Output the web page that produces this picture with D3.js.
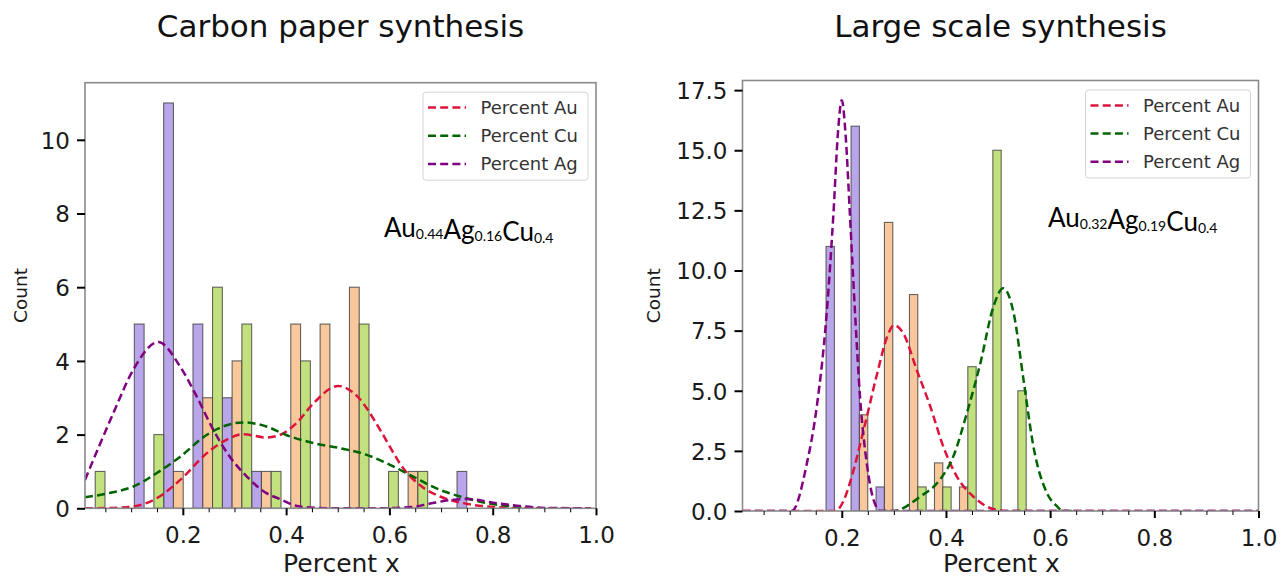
<!DOCTYPE html>
<html><head><meta charset="utf-8">
<script src="https://cdn.jsdelivr.net/npm/d3@7"></script>
<style>body{margin:0;background:#fff} svg{display:block}</style>
</head><body>
<svg id="chart" width="1281" height="579"></svg>
<script>
// ---------- DATA ----------
const seriesNames = ["Percent Au", "Percent Cu", "Percent Ag"];
const xTickValues = [0.2, 0.4, 0.6, 0.8, 1.0];
const xMinorValues = [0.05, 0.1, 0.15, 0.25, 0.3, 0.35, 0.45, 0.5, 0.55, 0.65, 0.7, 0.75, 0.85, 0.9, 0.95];

// Left panel: Carbon paper synthesis
const leftTitle = "Carbon paper synthesis";
const leftBinStart = -0.0075, leftBinWidth = 0.0568;
const leftCountsAg = [0, 0, 5, 11, 5, 3, 1, 0, 0, 0, 0, 0, 0, 1];
const leftCountsAu = [0, 0, 0, 1, 3, 4, 1, 5, 5, 6, 0, 1, 0, 0];
const leftCountsCu = [1, 0, 2, 0, 6, 5, 1, 4, 0, 5, 1, 1, 0, 0];
const leftYTicks = [0, 2, 4, 6, 8, 10];
const leftKdeAu = [[0.0106,0],[0.06,0.01],[0.104,0.05],[0.149,0.27],[0.195,0.77],[0.246,1.49],[0.278,1.81],[0.317,2.01],[0.362,1.92],[0.388,1.99],[0.420,2.31],[0.453,2.85],[0.501,3.32],[0.537,3.05],[0.582,2.13],[0.608,1.5],[0.620,1.22],[0.659,0.63],[0.698,0.32],[0.743,0.14],[0.808,0.03],[0.87,0.0],[0.99,0]];
const leftKdeCu = [[0.0106,0.30],[0.06,0.42],[0.104,0.59],[0.149,0.95],[0.195,1.40],[0.246,1.99],[0.278,2.22],[0.317,2.33],[0.362,2.22],[0.40,1.99],[0.453,1.77],[0.505,1.63],[0.556,1.45],[0.601,1.18],[0.646,0.86],[0.691,0.54],[0.737,0.32],[0.788,0.14],[0.839,0.05],[0.88,0.0]];
const leftKdeAg = [[0.0106,0.77],[0.0654,2.58],[0.104,3.76],[0.1526,4.51],[0.1946,3.85],[0.227,3.03],[0.259,2.13],[0.291,1.40],[0.324,0.86],[0.362,0.41],[0.388,0.25],[0.414,0.09],[0.446,0.02],[0.504,0.0],[0.582,0.0],[0.646,0.04],[0.679,0.13],[0.730,0.24],[0.750,0.25],[0.808,0.14],[0.853,0.06],[0.905,0.01],[0.99,0]];
const leftFormula = [["Au","0.44"],["Ag","0.16"],["Cu","0.4"]];

// Right panel: Large scale synthesis
const rightTitle = "Large scale synthesis";
const rightBinStart = 0.1698, rightBinWidth = 0.04803;
const rightCountsAg = [11, 16, 1, 0, 0, 0, 0, 0];
const rightCountsAu = [0, 4, 12, 9, 2, 1, 0, 0];
const rightCountsCu = [0, 0, 0, 1, 1, 6, 15, 5];
const rightYTicks = [0, 2.5, 5, 7.5, 10, 12.5, 15, 17.5];
const rightKdeAu = [[0.0094,0],[0.187,0.0],[0.205,0.5],[0.216,1.2],[0.242,3.37],[0.268,5.72],[0.287,7.24],[0.3006,7.73],[0.318,7.39],[0.344,5.86],[0.370,4.34],[0.395,2.67],[0.421,1.43],[0.453,0.59],[0.491,0.08],[0.52,0],[1.0,0]];
const rightKdeCu = [[0.27,0],[0.299,0.0],[0.350,0.59],[0.388,1.29],[0.414,2.26],[0.440,4.06],[0.466,6.14],[0.491,8.49],[0.510,9.26],[0.530,8.22],[0.549,5.44],[0.568,2.67],[0.594,0.74],[0.613,0.2],[0.625,0],[0.65,0]];
const rightKdeAg = [[0.0094,0],[0.104,0.0],[0.133,1.98],[0.152,4.34],[0.171,8.22],[0.184,12.37],[0.193,15.84],[0.200,17.08],[0.208,15.42],[0.2155,12.37],[0.2255,8.22],[0.235,4.75],[0.248,1.98],[0.261,0.46],[0.274,0.0],[1.0,0]];
const rightFormula = [["Au","0.32"],["Ag","0.19"],["Cu","0.4"]];

// ---------- STYLE ----------
const barFill = { Ag: "#b9a5e9", Au: "#f8c79b", Cu: "#c3e07f" };
const lineColor = { Au: "#dc143c", Cu: "#006400", Ag: "#800080" };
const FONT = "'DejaVu Sans', sans-serif";

const svg = d3.select("#chart");

function drawPanel(p, idx) {
  const x = d3.scaleLinear().domain(p.xDomain).range([p.left, p.right]);
  const y = d3.scaleLinear().domain(p.yDomain).range([p.bottom, p.top]);
  const g = svg.append("g");

  const clipId = "clip" + idx;
  svg.append("clipPath").attr("id", clipId).append("rect")
    .attr("x", p.left).attr("y", p.top)
    .attr("width", p.right - p.left).attr("height", p.bottom - p.top);

  const plot = g.append("g").attr("clip-path", `url(#${clipId})`);

  // bars: dodge order Ag, Au, Cu
  const slots = [["Ag", p.countsAg], ["Au", p.countsAu], ["Cu", p.countsCu]];
  const barData = [];
  slots.forEach(([key, counts], s) => {
    counts.forEach((c, i) => {
      if (c > 0) {
        const x0 = p.binStart + i * p.binWidth + s * p.binWidth / 3;
        barData.push({ key, c, x0, x1: x0 + p.binWidth / 3 });
      }
    });
  });
  plot.selectAll("rect.bar").data(barData).enter().append("rect")
    .attr("class", "bar")
    .attr("x", d => x(d.x0)).attr("width", d => x(d.x1) - x(d.x0))
    .attr("y", d => y(d.c)).attr("height", d => y(0) - y(d.c))
    .attr("fill", d => barFill[d.key])
    .attr("stroke", "rgba(65,65,65,0.8)").attr("stroke-width", 1.1);

  // KDE lines
  const line = d3.line().x(d => x(d[0])).y(d => y(d[1])).curve(d3.curveMonotoneX);
  [["Au", p.kdeAu], ["Cu", p.kdeCu], ["Ag", p.kdeAg]].forEach(([key, pts]) => {
    plot.append("path").attr("d", line(pts))
      .attr("fill", "none").attr("stroke", lineColor[key])
      .attr("stroke-width", 2.5).attr("stroke-dasharray", "8,4.2");
  });

  // spines
  g.append("rect").attr("x", p.left).attr("y", p.top)
    .attr("width", p.right - p.left).attr("height", p.bottom - p.top)
    .attr("fill", "none").attr("stroke", "#8a8a8a").attr("stroke-width", 1.6);

  // x axis major
  const xAxis = g.append("g").attr("transform", `translate(0,${p.bottom})`)
    .call(d3.axisBottom(x).tickValues(xTickValues).tickFormat(d3.format(".1f")).tickSize(7));
  xAxis.select(".domain").remove();
  xAxis.selectAll(".tick line").attr("stroke", "#000").attr("stroke-width", 2);
  xAxis.selectAll(".tick text").attr("y", 35).attr("dy", 0)
    .attr("font-family", FONT).attr("font-size", 23).attr("fill", "#1a1a1a");
  // x axis minor
  const xMinor = g.append("g").attr("transform", `translate(0,${p.bottom})`)
    .call(d3.axisBottom(x).tickValues(xMinorValues).tickFormat("").tickSize(4));
  xMinor.select(".domain").remove();
  xMinor.selectAll(".tick line").attr("stroke", "#000").attr("stroke-width", 1);

  // y axis
  const yAxis = g.append("g").attr("transform", `translate(${p.left},0)`)
    .call(d3.axisLeft(y).tickValues(p.yTicks).tickFormat(p.yFormat).tickSize(8));
  yAxis.select(".domain").remove();
  yAxis.selectAll(".tick line").attr("stroke", "#000").attr("stroke-width", 2);
  yAxis.selectAll(".tick text").attr("x", -15).attr("dy", "0.36em")
    .attr("font-family", FONT).attr("font-size", 23).attr("fill", "#1a1a1a");

  // title
  g.append("text").attr("x", (p.left + p.right) / 2).attr("y", 37)
    .attr("text-anchor", "middle").attr("font-family", FONT).attr("font-size", 31)
    .attr("fill", "#111").text(p.title);

  // axis labels
  g.append("text").attr("x", (p.left + p.right) / 2 + 1).attr("y", 572)
    .attr("text-anchor", "middle").attr("font-family", FONT).attr("font-size", 25)
    .attr("fill", "#1a1a1a").text("Percent x");
  g.append("text").attr("transform", `translate(${p.countX},${(p.top + p.bottom) / 2}) rotate(-90)`)
    .attr("text-anchor", "middle").attr("font-family", FONT).attr("font-size", 18.5)
    .attr("fill", "#1a1a1a").text("Count");

  // legend
  const lw = 165, lh = 88;
  const lx = p.right - 8 - lw, ly = p.top + 9.5;
  const leg = g.append("g").attr("transform", `translate(${lx},${ly})`);
  leg.append("rect").attr("width", lw).attr("height", lh).attr("rx", 3)
    .attr("fill", "rgba(255,255,255,0.85)").attr("stroke", "#d5d5d5").attr("stroke-width", 1);
  const keys = ["Au", "Cu", "Ag"];
  seriesNames.forEach((name, i) => {
    const yy = 15.4 + i * 28.2;
    leg.append("line").attr("x1", 5).attr("x2", 43).attr("y1", yy).attr("y2", yy)
      .attr("stroke", lineColor[keys[i]]).attr("stroke-width", 2.5).attr("stroke-dasharray", "8,4.2");
    leg.append("text").attr("x", 57.5).attr("y", yy).attr("dy", "0.35em")
      .attr("font-family", FONT).attr("font-size", 18).attr("fill", "#333").text(name);
  });

  // formula annotation
  const t = g.append("text").attr("x", p.formulaX).attr("y", p.formulaY)
    .attr("font-family", "Lato, 'Open Sans', sans-serif").attr("fill", "#000");
  p.formula.forEach(([el, sub]) => {
    t.append("tspan").attr("font-size", 26).attr("dy", 0).text(el);
    t.append("tspan").attr("font-size", 14).attr("dy", 2).text(sub);
    t.append("tspan").attr("font-size", 26).attr("dy", -2).text("");
  });
}

drawPanel({
  title: leftTitle, left: 85, right: 596, top: 82.7, bottom: 508.3,
  xDomain: [0.0106, 1.0], yDomain: [0, 11.55], yTicks: leftYTicks, yFormat: d3.format("d"),
  binStart: leftBinStart, binWidth: leftBinWidth,
  countsAg: leftCountsAg, countsAu: leftCountsAu, countsCu: leftCountsCu,
  kdeAu: leftKdeAu, kdeCu: leftKdeCu, kdeAg: leftKdeAg,
  countX: 27, formula: leftFormula, formulaX: 384, formulaY: 236.5
}, 0);

drawPanel({
  title: rightTitle, left: 742.5, right: 1258.5, top: 80.5, bottom: 511,
  xDomain: [0.0094, 1.0], yDomain: [0, 17.9], yTicks: rightYTicks, yFormat: d3.format(".1f"),
  binStart: rightBinStart, binWidth: rightBinWidth,
  countsAg: rightCountsAg, countsAu: rightCountsAu, countsCu: rightCountsCu,
  kdeAu: rightKdeAu, kdeCu: rightKdeCu, kdeAg: rightKdeAg,
  countX: 660, formula: rightFormula, formulaX: 1048, formulaY: 226.5
}, 1);
</script>
</body></html>
